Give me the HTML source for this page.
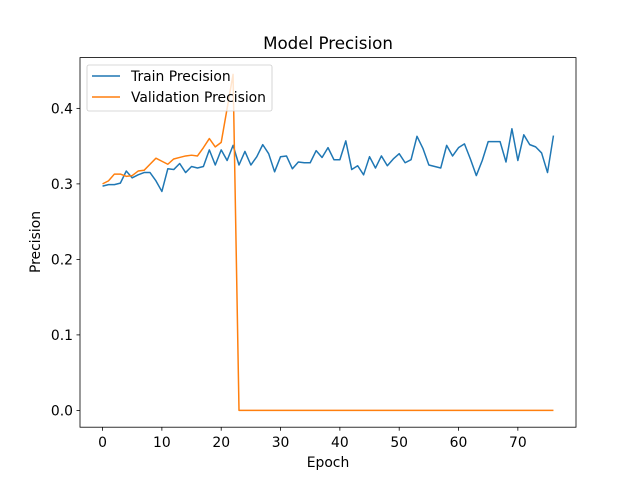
<!DOCTYPE html>
<html><head><meta charset="utf-8"><style>
body{margin:0;background:#fff}
svg{font-family:"DejaVu Sans","Liberation Sans",sans-serif}
</style></head><body>
<svg id="c" width="640" height="480"></svg>
<script>
const train=[.297,.299,.299,.301,.317,.308,.312,.315,.315,.304,.290,.320,.319,.327,.315,.323,.321,.323,.345,.325,.345,.331,.351,.325,.343,.325,.336,.352,.340,.316,.336,.337,.320,.329,.328,.328,.344,.335,.348,.332,.332,.357,.319,.324,.312,.336,.321,.337,.324,.333,.340,.328,.332,.363,.347,.325,.323,.321,.351,.337,.348,.353,.333,.311,.331,.356,.356,.356,.329,.373,.331,.365,.352,.349,.341,.315,.364];
const valid=[.300,.304,.313,.313,.310,.311,.317,.318,.326,.334,.330,.326,.333,.335,.337,.338,.337,.348,.360,.349,.355,.400,.445];
while(valid.length<train.length)valid.push(0);
const xTicks=[0,10,20,30,40,50,60,70];
const yTicks=[0,0.1,0.2,0.3,0.4];
const yLabels=["0.0","0.1","0.2","0.3","0.4"];
const L=80,T=57.6,W=496,H=369.6;
const xmin=-3.8,xmax=79.8,ymin=-0.02225,ymax=0.46725;
const X=v=>L+(v-xmin)/(xmax-xmin)*W;
const Y=v=>T+H-(v-ymin)/(ymax-ymin)*H;
const svg=document.getElementById('c');const NS='http://www.w3.org/2000/svg';
function mk(t,a,txt){const e=document.createElementNS(NS,t);for(const k in a)e.setAttribute(k,a[k]);if(txt!=null)e.textContent=txt;svg.appendChild(e);return e;}
let e;
e=mk('rect',{x:L,y:T,width:W,height:H,fill:'none',stroke:'#000','stroke-width':0.8});


xTicks.forEach(t=>{
 e=mk('line',{x1:X(t),x2:X(t),y1:T+H,y2:T+H+3.5,stroke:'#000','stroke-width':0.8});
 
 
 e=mk('text',{x:X(t),y:T+H+20,'text-anchor':'middle','font-size':13.9},t);
 
 
});
yTicks.forEach((t,i)=>{
 e=mk('line',{x1:L-3.5,x2:L,y1:Y(t),y2:Y(t),stroke:'#000','stroke-width':0.8});
 
 
 e=mk('text',{x:L-7,y:Y(t)+5,'text-anchor':'end','font-size':13.9},yLabels[i]);
 
 
});
function line(d,c,n){
 e=mk('polyline',{points:d.map((v,i)=>X(i)+','+Y(v)).join(' '),fill:'none',stroke:c,'stroke-width':1.5,'stroke-linejoin':'round'});
 
 
}
line(train,'#1f77b4','train-precision-line');
line(valid,'#ff7f0e','validation-precision-line');
e=mk('text',{x:328,y:49,'text-anchor':'middle','font-size':16.7},'Model Precision');


e=mk('text',{x:328,y:467,'text-anchor':'middle','font-size':13.9},'Epoch');


e=mk('text',{x:0,y:0,'text-anchor':'middle','font-size':13.9,transform:'translate(40,242) rotate(-90)'},'Precision');


e=mk('rect',{x:87,y:65,width:185,height:46,rx:2,fill:'#fff','fill-opacity':0.8,stroke:'#ccc','stroke-width':0.8});


[['Train Precision','#1f77b4',76],['Validation Precision','#ff7f0e',97]].forEach(([t,c,y])=>{
 e=mk('line',{x1:92,x2:120,y1:y,y2:y,stroke:c,'stroke-width':1.5});
 
 
 e=mk('text',{x:131,y:y+5,'font-size':13.9},t);
 
 
});
</script>
</body></html>
